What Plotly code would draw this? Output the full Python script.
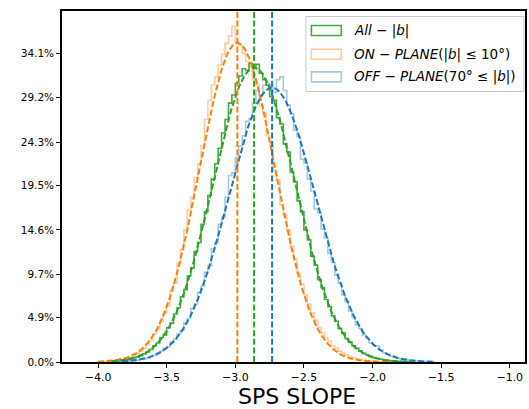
import plotly.graph_objects as go
import numpy as np

# ---------------- data ----------------
BIN_WIDTH = 0.025

# ON-PLANE (|b| <= 10 deg) histogram, first bin left edge and heights (%)
on_start = -4.0
on_vals = [0.02, 0.05, 0.08, 0.10, 0.15, 0.20, 0.26, 0.33, 0.42, 0.55,
           0.70, 0.92, 1.2, 1.5, 1.95, 2.4, 3.1, 3.6, 4.5, 5.4,
           6.2, 7.9, 8.7, 10.9, 12.4, 14.6, 16.8, 18.2, 20.4, 21.9,
           23.9, 26.8, 28.9, 30.6, 31.5, 32.8, 34.0, 35.2, 36.0, 37.1,
           35.4, 35.0, 34.1, 33.2, 32.6, 31.2, 30.6, 28.3, 27.5, 25.0,
           24.1, 21.2, 20.1, 17.4, 16.2, 14.6, 12.8, 11.4, 9.8, 8.6,
           7.4, 6.4, 5.4, 4.6, 3.8, 3.2, 2.7, 2.3, 1.8, 1.5,
           1.2, 1.0, 0.8, 0.6, 0.5, 0.35, 0.27, 0.2, 0.14, 0.1,
           0.07, 0.05, 0.03, 0.02, 0.01, 0.0]

# All-|b| histogram
all_start = -3.9
all_vals = [0.05, 0.1, 0.14, 0.2, 0.26, 0.34, 0.44, 0.55, 0.7, 0.9,
            1.1, 1.4, 1.8, 2.1, 2.7, 3.0, 3.8, 4.3, 5.3, 6.0,
            7.2, 8.0, 9.5, 10.4, 12.2, 13.2, 15.2, 16.6, 18.4, 20.2,
            21.9, 23.6, 25.3, 26.8, 28.6, 29.5, 30.8, 31.6, 32.4, 32.2,
            33.0, 32.6, 32.9, 31.9, 31.2, 30.6, 29.3, 28.9, 27.0, 26.3,
            24.1, 23.2, 21.0, 19.9, 17.8, 16.6, 14.6, 13.5, 11.7, 10.7,
            9.1, 8.2, 6.9, 6.1, 5.1, 4.5, 3.7, 3.2, 2.6, 2.2,
            1.8, 1.5, 1.2, 0.95, 0.78, 0.62, 0.48, 0.38, 0.3, 0.23,
            0.17, 0.13, 0.1, 0.07, 0.05, 0.04, 0.02, 0.01]

# OFF-PLANE (70 deg <= |b|) histogram
off_start = -3.825
off_vals = [0.05, 0.08, 0.1, 0.15, 0.2, 0.28, 0.35, 0.45, 0.6, 0.75,
            0.95, 1.2, 1.5, 1.7, 2.2, 2.5, 3.1, 3.5, 4.3, 4.8,
            5.9, 6.4, 7.7, 8.4, 9.9, 10.6, 12.5, 13.2, 15.2, 16.0,
            18.2, 20.6, 20.9, 22.6, 23.9, 25.0, 26.6, 26.9, 28.6, 30.0,
            29.5, 30.6, 30.8, 30.4, 29.8, 31.2, 31.5, 30.0, 28.4, 27.4,
            25.6, 24.9, 22.4, 22.0, 20.2, 18.9, 16.9, 16.5, 14.7, 13.7,
            12.0, 11.0, 9.6, 8.7, 7.4, 6.7, 5.6, 5.0, 4.1, 3.7,
            3.0, 2.6, 2.1, 1.8, 1.75, 1.3, 1.0, 0.85, 0.65, 0.55,
            0.42, 0.34, 0.27, 0.22, 0.17, 0.13, 0.1, 0.08, 0.06, 0.04, 0.03]

# Gaussian fit parameters: All, ON, OFF
fit_mu = [-2.863, -2.985, -2.732]
fit_sigma = [0.300, 0.275, 0.315]
fit_peak = [32.5, 35.25, 30.3]

legend_labels = ["<i>All</i> − |<i>b</i>|",
                 "<i>ON</i> − <i>PLANE</i>(|<i>b</i>| ≤ 10°)",
                 "<i>OFF</i> − <i>PLANE</i>(70° ≤ |<i>b</i>|)"]
x_title = "SPS SLOPE"

y_tick_labels = ["0.0%", "4.9%", "9.7%", "14.6%", "19.5%", "24.3%", "29.2%", "34.1%"]
y_tick_vals = [0.0, 4.9, 9.7, 14.6, 19.5, 24.3, 29.2, 34.1]
x_tick_vals = [-4.0, -3.5, -3.0, -2.5, -2.0, -1.5, -1.0]

# ---------------- styling ----------------
C_GREEN = "#2ca02c"
C_ORANGE = "#ff7f0e"
C_BLUE = "#1f77b4"
hist_colors = ["rgba(44,160,44,0.9)", "rgba(255,127,14,0.4)", "rgba(31,119,180,0.4)"]
fit_colors = [C_GREEN, C_ORANGE, C_BLUE]
FONT = "DejaVu Sans"

starts = [all_start, on_start, off_start]
vals_list = [all_vals, on_vals, off_vals]


def step_xy(start, vals):
    n = len(vals)
    edges = [start + BIN_WIDTH * i for i in range(n + 1)]
    x = [edges[0]] + edges + [edges[-1]]
    y = [0.0] + list(vals) + [vals[-1], 0.0]
    return x, y


fig = go.Figure()

# histograms (draw ON, OFF first, then All on top)
for idx in [1, 2, 0]:
    x, y = step_xy(starts[idx], vals_list[idx])
    fig.add_trace(go.Scatter(x=x, y=y, mode="lines", line=dict(color=hist_colors[idx], width=1.6, shape="hv"),
                             showlegend=False, hoverinfo="skip"))

# Gaussian fits
for idx in [1, 0, 2]:
    lo = starts[idx]
    hi = starts[idx] + BIN_WIDTH * len(vals_list[idx])
    xs = np.linspace(lo, hi, 300)
    ys = fit_peak[idx] * np.exp(-0.5 * ((xs - fit_mu[idx]) / fit_sigma[idx]) ** 2)
    fig.add_trace(go.Scatter(x=xs, y=ys, mode="lines",
                             line=dict(color=fit_colors[idx], width=2, dash="6px,2.6px"),
                             showlegend=False, hoverinfo="skip"))

# mean lines
for idx in [1, 0, 2]:
    fig.add_vline(x=fit_mu[idx], line=dict(color=fit_colors[idx], width=2, dash="6px,2.6px"))

# ---------------- layout ----------------
W, H = 529, 409
PL, PR, PT, PB = 62, 527, 11, 362   # plot area in window pixels


def px_x(px):
    return (px - PL) / (PR - PL)


def px_y(py):
    return (PB - py) / (PB - PT)


shapes = []
shapes.append(dict(type="rect", xref="paper", yref="paper",
                   x0=px_x(307), x1=px_x(526), y0=px_y(91.5), y1=px_y(16.5),
                   line=dict(color="#cccccc", width=1), fillcolor="rgba(255,255,255,0.85)", layer="above"))
row_centers = [30.5, 54.2, 76.9]
for i, yc in enumerate(row_centers):
    shapes.append(dict(type="rect", xref="paper", yref="paper",
                       x0=px_x(312.5), x1=px_x(342.5), y0=px_y(yc + 5), y1=px_y(yc - 5),
                       line=dict(color=hist_colors[i], width=1.6), fillcolor="rgba(0,0,0,0)", layer="above"))
    fig.add_annotation(x=px_x(353), y=px_y(yc), xref="paper", yref="paper", text=legend_labels[i],
                       showarrow=False, xanchor="left", yanchor="middle",
                       font=dict(family=FONT, size=13.5, color="black"))

# x-axis title placed as text below the tick labels
fig.add_annotation(x=px_x(298.5), y=px_y(396), xref="paper", yref="paper", text=x_title,
                   showarrow=False, xanchor="center", yanchor="middle", height=20, borderpad=0,
                   font=dict(family=FONT, size=22, color="black"))

fig.update_layout(
    width=W, height=H,
    margin=dict(l=PL, r=W - PR, t=PT, b=H - PB),
    paper_bgcolor="white", plot_bgcolor="white",
    font=dict(family=FONT, color="black"),
    shapes=list(fig.layout.shapes) + shapes,
    showlegend=False,
    hovermode=False,
)
fig.update_xaxes(range=[-4.263, -0.889], tickvals=x_tick_vals, tickformat=".1f",
                 showline=True, linecolor="black", linewidth=1.6, mirror=True,
                 ticks="outside", ticklen=4, tickwidth=1.2, tickcolor="black",
                 tickfont=dict(family=FONT, size=11, color="black"),
                 showgrid=False, zeroline=False)
fig.update_yaxes(range=[0, 38.78], tickvals=y_tick_vals, ticktext=y_tick_labels,
                 showline=True, linecolor="black", linewidth=1.6, mirror=True,
                 ticks="outside", ticklen=4, tickwidth=1.2, tickcolor="black",
                 tickfont=dict(family=FONT, size=10.5, color="black"),
                 showgrid=False, zeroline=False)

fig.write_html("out.html", config={"displayModeBar": False},
               post_script="document.body.style.margin='0';")
